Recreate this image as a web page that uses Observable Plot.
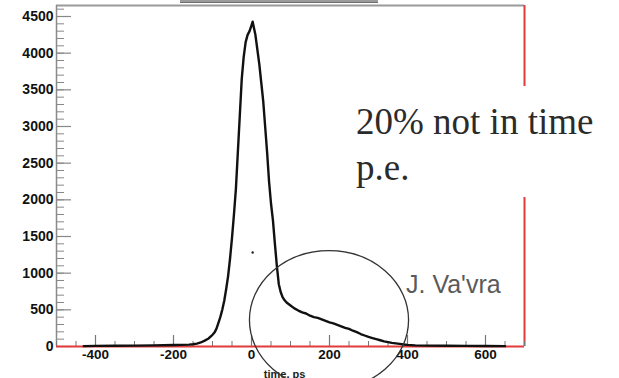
<!DOCTYPE html>
<html>
<head>
<meta charset="utf-8">
<script src="https://cdn.jsdelivr.net/npm/d3@7"></script>
<script src="https://cdn.jsdelivr.net/npm/@observablehq/plot@0.6"></script>
<style>
  body { margin: 0; background: #fff; }
  #wrap { position: relative; width: 619px; height: 378px; overflow: hidden; background: #fff; }
  #wrap svg { position: absolute; left: 0; top: 0; }
  .titlebox { position: absolute; left: 180px; top: -1px; width: 198px; height: 3px; background: #9c9c9c; border-bottom: 1px solid #6e6e6e; }
  .note { position: absolute; left: 346px; top: 86px; width: 273px; height: 111px; background: #fff;
          font-family: "Liberation Serif", "Times New Roman", serif; font-size: 37px; line-height: 46px; color: #2b2b2b; }
  .note div { position: absolute; left: 10px; white-space: nowrap; }
  .author { position: absolute; left: 406px; top: 269px; font-family: "Liberation Sans", Arial, sans-serif;
            font-size: 25px; color: #5a5a5a; white-space: nowrap; line-height: 30px; }
</style>
</head>
<body>
<div id="wrap"></div>
<script>
// histogram: time (ps) vs counts
const timePs = [-430,-400,-350,-300,-250,-200,-180,-160,-150,-140,-130,-120,-110,-100,-95,-90,-85,-80,-75,-70,-65,-60,-55,-50,-45,-40,-35,-30,-25,-20,-15,-10,-5,0,3,6,10,15,20,25,30,35,40,45,50,55,60,65,70,75,80,85,90,100,110,120,130,140,150,160,170,180,190,200,210,220,230,240,250,260,270,280,290,300,310,320,330,340,350,360,370,380,390,400,420,450,500,550,600,650];
const counts = [5,8,10,12,15,20,22,25,30,40,55,80,110,160,190,240,320,400,500,620,780,960,1200,1480,1800,2150,2650,3150,3650,3950,4150,4250,4300,4380,4430,4350,4250,4050,3850,3600,3350,3000,2650,2250,1950,1720,1400,1100,850,740,670,630,600,560,520,490,465,450,420,400,390,370,350,330,315,295,275,255,240,215,195,170,150,130,115,100,85,70,60,50,42,35,28,22,15,12,10,8,6,5];
// stray point
const strayX = [3];
const strayY = [1282];

const xMajor = [-400,-200,0,200,400,600];
const xMinor = d3.range(-500, 701, 50);
const yMajor = [0,500,1000,1500,2000,2500,3000,3500,4000,4500];
const yMinor = d3.range(0, 4601, 100);

const hist = timePs.map((t, i) => ({t, c: counts[i]}));
const stray = strayX.map((t, i) => ({t, c: strayY[i]}));

const W = 619, H = 378, mL = 56, mR = 95, mT = 5, mB = 32;
const pw = W - mL - mR, ph = H - mT - mB;
const red = "#e23b3b";
const fmt = d => String(d);

const plot = Plot.plot({
  width: W, height: H,
  marginLeft: mL, marginRight: mR, marginTop: mT, marginBottom: mB,
  style: {fontFamily: "'Liberation Sans', Arial, sans-serif", background: "transparent", overflow: "visible"},
  x: {domain: [-500, 700]},
  y: {domain: [0, 4650]},
  marks: [
    Plot.ruleY([4650], {stroke: "#9a9a9a", strokeWidth: 2}),
    Plot.ruleX([-500], {stroke: "#8a8a8a", strokeWidth: 1.5}),
    Plot.ruleX([700], {stroke: red, strokeWidth: 2}),
    Plot.tickY(yMinor, {y: d => d, stroke: "#888", strokeWidth: 1, insetRight: pw - 8}),
    Plot.tickY(yMajor, {y: d => d, stroke: "#888", strokeWidth: 1.2, insetRight: pw - 15}),
    Plot.tickX(xMinor, {x: d => d, stroke: "#777", strokeWidth: 1, insetTop: ph - 5}),
    Plot.tickX(xMajor, {x: d => d, stroke: "#777", strokeWidth: 1.2, insetTop: ph - 11}),
    Plot.ruleY([0], {stroke: red, strokeWidth: 2.2}),
    Plot.line(hist, {x: "t", y: "c", stroke: "#111", strokeWidth: 2.4, strokeLinejoin: "round"}),
    Plot.dot(stray, {x: "t", y: "c", r: 1.2, fill: "#222"}),
    Plot.axisY(yMajor, {tickSize: 0, tickPadding: 3, tickFormat: fmt, fontSize: 14, fontWeight: "bold", fill: "#111", label: null}),
    Plot.axisX(xMajor, {tickSize: 0, tickPadding: 3, tickFormat: fmt, fontSize: 13.5, fontWeight: "bold", fill: "#111", label: null}),
    Plot.text(["time, ps"], {x: 85, frameAnchor: "bottom", dy: 31, lineAnchor: "bottom", fontSize: 11, fontWeight: "bold", fill: "#222"})
  ]
});

const wrap = document.getElementById("wrap");
wrap.appendChild(plot);

// annotation ellipse placed through the plot's own scales
const sx = plot.scale("x"), sy = plot.scale("y");
const cx = sx.apply(200), cy = sy.apply(355);
const rx = sx.apply(200) - sx.apply(-4);
const ry = sy.apply(355) - sy.apply(1300);
d3.select(plot).append("ellipse")
  .attr("cx", cx).attr("cy", cy).attr("rx", rx).attr("ry", Math.abs(ry))
  .attr("fill", "none").attr("stroke", "#333").attr("stroke-width", 1.3);

const tb = document.createElement("div");
tb.className = "titlebox";
wrap.appendChild(tb);

const note = document.createElement("div");
note.className = "note";
note.innerHTML = '<div style="top:13px">20% not in time</div><div style="top:59px">p.e.</div>';
wrap.appendChild(note);

const author = document.createElement("div");
author.className = "author";
author.textContent = "J. Va'vra";
wrap.appendChild(author);
</script>
</body>
</html>
